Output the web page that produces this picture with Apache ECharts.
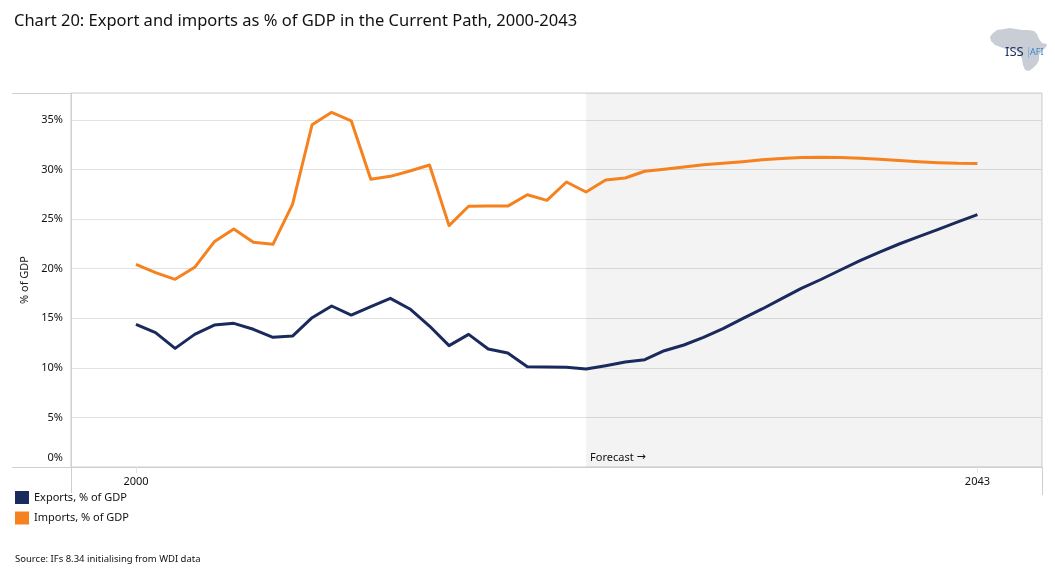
<!DOCTYPE html>
<html>
<head>
<meta charset="utf-8">
<script src="https://cdn.jsdelivr.net/npm/echarts@6/dist/echarts.min.js"></script>
<style>
html,body{margin:0;padding:0;background:#fff;}
#chart{width:1055px;height:584px;}
</style>
</head>
<body>
<div id="chart"></div>
<script>
const years = [];
for (let y = 2000; y <= 2043; y++) years.push(y);

const exportsPct = [14.38, 13.54, 11.96, 13.37, 14.31, 14.48, 13.88, 13.07, 13.20, 15.05,
  16.23, 15.32, 16.16, 17.00, 15.93, 14.21, 12.23, 13.37, 11.90, 11.49,
  10.11, 10.08, 10.05, 9.87, 10.21, 10.58, 10.82, 11.72, 12.30, 13.07,
  13.94, 14.95, 15.93, 16.97, 18.00, 18.90, 19.86, 20.80, 21.67, 22.48,
  23.22, 23.96, 24.70, 25.44];

const importsPct = [20.43, 19.60, 18.92, 20.13, 22.70, 23.99, 22.65, 22.45, 26.48, 34.50,
  35.75, 34.90, 29.00, 29.30, 29.84, 30.44, 24.33, 26.28, 26.30, 26.30,
  27.45, 26.88, 28.73, 27.72, 28.93, 29.13, 29.81, 30.01, 30.24, 30.47,
  30.62, 30.78, 30.96, 31.10, 31.20, 31.23, 31.21, 31.12, 31.02, 30.90,
  30.78, 30.68, 30.61, 30.60];

const xTickLabels = [2000, 2043];
const forecastStart = 2023;
const forecastWord = 'Forecast';
const forecastArrow = '\u2192';
const seriesNames = ['Exports, % of GDP', 'Imports, % of GDP'];
const titleText = 'Chart 20: Export and imports as % of GDP in the Current Path, 2000-2043';
const sourceText = 'Source: IFs 8.34 initialising from WDI data';

const FONT = '"Noto Sans", "Liberation Sans", sans-serif';
const X_MIN = 1996.68, X_MAX = 2046.30;
const lineColor = '#cfcfcf';

const chart = echarts.init(document.getElementById('chart'), null, {renderer: 'canvas'});

const africa = [[992,34],[997,30],[1004,29],[1010,28],[1016,29],[1022,30],[1028,30],[1034,31],[1037,34],[1039,39],[1042,43],[1047,44],[1046,47],[1042,51],[1039,55],[1039,60],[1037,64],[1033,68],[1029,71],[1025,70],[1023,65],[1022,59],[1020,54],[1017,51],[1012,49],[1006,49],[1000,47],[995,45],[991,41],[990,37]];

chart.setOption({
  animation: false,
  backgroundColor: '#ffffff',
  title: {
    text: titleText,
    left: 14, top: 13, padding: 0,
    textStyle: {fontFamily: FONT, fontSize: 16.5, fontWeight: 'normal', color: '#111'}
  },
  grid: {
    left: 71, right: 13, top: 93, bottom: 117,
    show: true, borderColor: lineColor, borderWidth: 1, backgroundColor: 'transparent'
  },
  legend: {
    orient: 'vertical', left: 15, top: 491, padding: 0,
    itemWidth: 14, itemHeight: 13, itemGap: 7.5,
    icon: 'rect',
    textStyle: {fontFamily: FONT, fontSize: 11, color: '#111'},
    data: seriesNames
  },
  xAxis: {
    type: 'value', min: X_MIN, max: X_MAX,
    axisLine: {show: true, lineStyle: {color: lineColor}},
    axisTick: {show: true, length: 6, lineStyle: {color: '#e3e3e3'}, customValues: xTickLabels},
    axisLabel: {customValues: xTickLabels, margin: 9, fontFamily: FONT, fontSize: 11, color: '#111',
      formatter: v => String(v)},
    splitLine: {show: false}
  },
  yAxis: {
    type: 'value', min: 0, max: 37.7, interval: 5,
    name: '% of GDP', nameLocation: 'middle', nameGap: 41, nameRotate: 90,
    nameTextStyle: {fontFamily: FONT, fontSize: 11, color: '#222'},
    axisLine: {show: true, lineStyle: {color: lineColor}},
    axisTick: {show: false},
    axisLabel: {
      showMaxLabel: false, margin: 8, fontFamily: FONT, fontSize: 11, color: '#111',
      formatter: v => (v === 0 ? '{z|0%}' : v + '%'),
      rich: {z: {fontFamily: FONT, fontSize: 11, color: '#111', padding: [0, 0, 18, 0]}}
    },
    splitLine: {show: true, lineStyle: {color: '#e2e2e2', width: 1}}
  },
  series: [
    {
      name: seriesNames[0], type: 'line', showSymbol: false, smooth: false,
      color: '#1b2a5c',
      lineStyle: {width: 3, color: '#1b2a5c', join: 'round'},
      data: years.map((y, i) => [y, exportsPct[i]]),
      markArea: {
        silent: true,
        itemStyle: {color: 'rgba(0,0,0,0.047)'},
        label: {show: true, position: 'insideBottomLeft', distance: 4,
          formatter: forecastWord + ' {a|' + forecastArrow + '}',
          fontFamily: FONT, fontSize: 11, color: '#111',
          rich: {a: {fontFamily: '"DejaVu Sans", sans-serif', fontSize: 11, color: '#111'}}},
        data: [[{xAxis: forecastStart, yAxis: 0}, {xAxis: X_MAX, yAxis: 37.7}]]
      },
      z: 3
    },
    {
      name: seriesNames[1], type: 'line', showSymbol: false, smooth: false,
      color: '#f5821f',
      lineStyle: {width: 3, color: '#f5821f', join: 'round'},
      data: years.map((y, i) => [y, importsPct[i]]),
      z: 3
    }
  ],
  graphic: [
    {type: 'line', shape: {x1: 12, y1: 93.5, x2: 71, y2: 93.5}, style: {stroke: lineColor, lineWidth: 1}},
    {type: 'line', shape: {x1: 12, y1: 467.5, x2: 71, y2: 467.5}, style: {stroke: lineColor, lineWidth: 1}},
    {type: 'line', shape: {x1: 71.5, y1: 467, x2: 71.5, y2: 493}, style: {stroke: lineColor, lineWidth: 1}},
    {type: 'line', shape: {x1: 1042.5, y1: 467, x2: 1042.5, y2: 495}, style: {stroke: lineColor, lineWidth: 1}},
    {type: 'text', left: 15, top: 554,
      style: {text: sourceText, font: '9.5px ' + FONT, fill: '#111'}},
    {type: 'polygon', shape: {points: africa}, style: {fill: '#c9cdd5'}},
    {type: 'text', x: 1005, y: 46, style: {text: 'ISS', font: '13px ' + FONT, fill: '#1b2a5c'}},
    {type: 'text', x: 1026, y: 47, style: {text: '|', font: '10px ' + FONT, fill: '#6fa8dc'}},
    {type: 'text', x: 1030, y: 48, style: {text: 'AFI', font: '9px ' + FONT, fill: '#3a86c8'}}
  ]
});
</script>
</body>
</html>
